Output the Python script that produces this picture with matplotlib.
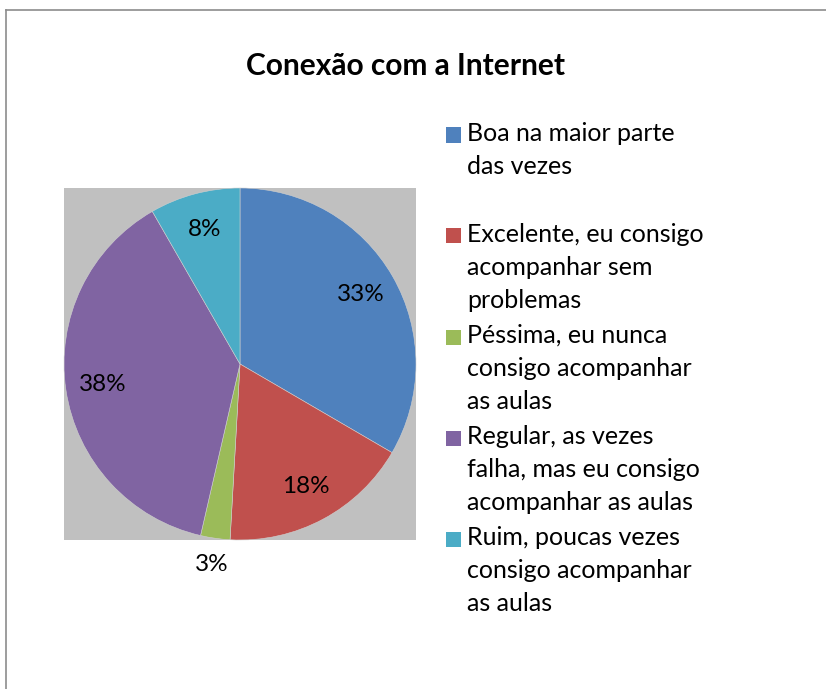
import numpy as np
import matplotlib
matplotlib.use("Agg")
import matplotlib.pyplot as plt
from matplotlib import patches
from matplotlib.lines import Line2D

plt.rcParams['font.family'] = ['Lato', 'DejaVu Sans']

# ==== Data ====
title = "Conexão com a Internet"
categories = [
    "Boa na maior parte\ndas vezes",
    "Excelente, eu consigo\nacompanhar sem\nproblemas",
    "Péssima, eu nunca\nconsigo acompanhar\nas aulas",
    "Regular, as vezes\nfalha, mas eu consigo\nacompanhar as aulas",
    "Ruim, poucas vezes\nconsigo acompanhar\nas aulas",
]
shares = [33.4, 17.5, 2.7, 38.1, 8.3]
colors = ["#4F81BD", "#C0504D", "#9BBB59", "#8064A2", "#4BACC6"]

W, H = 826, 689
fig = plt.figure(figsize=(W / 100, H / 100), dpi=100)


def fx(px):
    return px / W


def fy(py):
    return 1 - py / H


# chart frame (left and top edges visible)
fig.add_artist(Line2D([fx(5.5), fx(5.5)], [0, fy(9.5)], color="#8c8c8c", lw=1.2))
fig.add_artist(Line2D([fx(5.5), 1], [fy(9.5), fy(9.5)], color="#8c8c8c", lw=1.2))

fig.text(fx(405), fy(66), title, ha="center", va="center",
         fontsize=21.5, fontweight="bold")

# ==== Pie ====
ax = fig.add_axes([fx(64), fy(540), fx(352), 352 / H])
wedges, _ = ax.pie(shares, colors=colors, startangle=90, counterclock=False,
                   radius=1, frame=True,
                   wedgeprops=dict(linewidth=0.4, edgecolor="#d0d0d0"))
ax.set_facecolor("#C0C0C0")
for sp in ax.spines.values():
    sp.set_visible(False)
ax.set_xticks([])
ax.set_yticks([])
ax.set_xlim(-1, 1)
ax.set_ylim(-1, 1)
ax.set_aspect("equal")

for w, v in zip(wedges, shares):
    ang = np.deg2rad((w.theta1 + w.theta2) / 2)
    r = 1.15 if v < 5 else 0.79
    ax.text(r * np.cos(ang), r * np.sin(ang), f"{v:.0f}%", ha="center",
            va="center", fontsize=17.5, clip_on=False)

# ==== Legend ====
top = 135
step = 101
for i, (lab, c) in enumerate(zip(categories, colors)):
    y = top + i * step
    fig.add_artist(patches.Rectangle((fx(446), fy(y + 7.5)), fx(15), 15 / H,
                                     facecolor=c, edgecolor="none"))
    fig.text(fx(467), fy(y - 13), lab, ha="left", va="top", fontsize=18,
             linespacing=1.52)

fig.savefig("out.png", dpi=100)
